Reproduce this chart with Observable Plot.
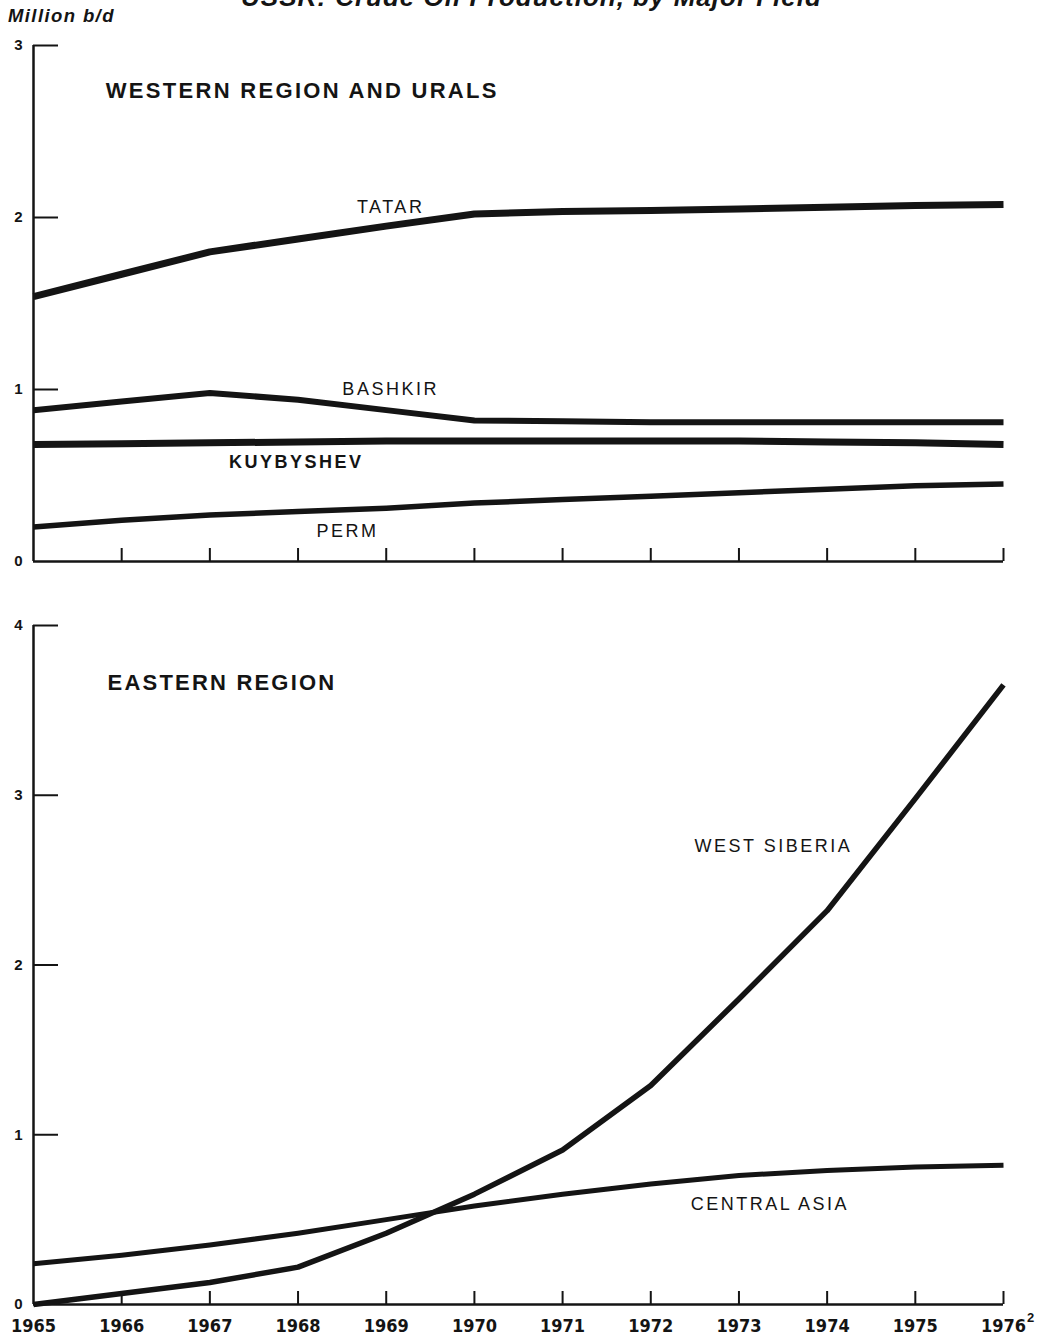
<!DOCTYPE html>
<html>
<head>
<meta charset="utf-8">
<script src="https://cdn.jsdelivr.net/npm/d3@7"></script>
<script src="https://cdn.jsdelivr.net/npm/@observablehq/plot@0.6"></script>
<style>
  body { margin: 0; background: #fff; }
  #wrap { position: relative; width: 1039px; height: 1337px; overflow: hidden; background: #fff; color: #141414; }
  #title { position: absolute; left: 12px; width: 1039px; top: -16px; text-align: center; letter-spacing: 1px;
           font: italic bold 26px/26px "Liberation Sans", Arial, sans-serif; color: #141414; white-space: nowrap; }
  #unit { position: absolute; left: 8px; top: 6px; font: italic bold 18.5px/20px "Liberation Sans", Arial, sans-serif;
          letter-spacing: 1.4px; color: #141414; }
  #top { position: absolute; left: 0; top: 30px; }
  #bottom { position: absolute; left: 0; top: 600px; }
</style>
</head>
<body>
<div id="wrap">
  <div id="title">USSR: Crude Oil Production, by Major Field</div>
  <div id="unit">Million b/d</div>
  <div id="top"></div>
  <div id="bottom"></div>
</div>
<script>
// ---- Data (million barrels per day) ----
const years = [1965, 1966, 1967, 1968, 1969, 1970, 1971, 1972, 1973, 1974, 1975, 1976];

// Western Region and Urals
const tatar      = [1.54, 1.67, 1.80, 1.875, 1.95, 2.02, 2.035, 2.04, 2.05, 2.06, 2.07, 2.075];
const bashkir    = [0.88, 0.93, 0.98, 0.94, 0.88, 0.82, 0.815, 0.81, 0.81, 0.81, 0.81, 0.81];
const kuybyshev  = [0.68, 0.685, 0.69, 0.695, 0.70, 0.70, 0.70, 0.70, 0.70, 0.695, 0.69, 0.68];
const perm       = [0.20, 0.24, 0.27, 0.29, 0.31, 0.34, 0.36, 0.38, 0.40, 0.42, 0.44, 0.45];

// Eastern Region
const westSiberia = [0.00, 0.065, 0.13, 0.22, 0.42, 0.65, 0.91, 1.29, 1.80, 2.32, 2.98, 3.65];
const centralAsia = [0.24, 0.29, 0.35, 0.42, 0.50, 0.58, 0.65, 0.71, 0.76, 0.79, 0.81, 0.82];

const westTicksY = [0, 1, 2, 3];
const eastTicksY = [0, 1, 2, 3, 4];

const westTitle = "WESTERN REGION AND URALS";
const eastTitle = "EASTERN REGION";

// label anchors in data coordinates
const westLabels = [
  {text: "TATAR", year: 1969.05, value: 2.06, bold: false},
  {text: "BASHKIR", year: 1969.05, value: 1.0, bold: false},
  {text: "KUYBYSHEV", year: 1967.98, value: 0.576, bold: true},
  {text: "PERM", year: 1968.56, value: 0.174, bold: false}
];
const eastLabels = [
  {text: "WEST SIBERIA", year: 1973.39, value: 2.70, bold: false},
  {text: "CENTRAL ASIA", year: 1973.35, value: 0.59, bold: false}
];

const series = (vals) => vals.map((v, i) => ({year: years[i], value: v}));

const INK = "#141414";
const SANS = "Liberation Sans, Arial, sans-serif";
const NARROW = "Liberation Sans Narrow, DejaVu Sans Condensed, sans-serif";

function lineMarks(list) {
  return list.map(([vals, w]) => Plot.line(series(vals), {x: "year", y: "value", stroke: INK, strokeWidth: w, strokeLinecap: "butt", strokeLinejoin: "round"}));
}

function frameMarks(ymax, ticksY) {
  return [
    Plot.ruleX([1965], {y1: 0, y2: ymax, stroke: INK, strokeWidth: 2.5}),
    Plot.ruleY([0], {x1: 1965, x2: 1976, stroke: INK, strokeWidth: 2.5}),
    Plot.axisY({ticks: ticksY.filter(d => d > 0), tickSize: -25, tickFormat: () => "", label: null, stroke: INK, strokeWidth: 2}),
    Plot.axisY({ticks: ticksY, tickSize: 0, tickPadding: 11, tickFormat: d => String(d), label: null, fontSize: 15, fontWeight: "bold", fontFamily: SANS, fill: INK}),
    Plot.axisX({ticks: years.slice(1), tickSize: -13, tickFormat: () => "", label: null, stroke: INK, strokeWidth: 2})
  ];
}

function labelMarks(labels) {
  return [
    Plot.text(labels.filter(d => !d.bold), {x: "year", y: "value", text: "text", fontSize: 18, fontFamily: SANS, fill: INK}),
    Plot.text(labels.filter(d => d.bold), {x: "year", y: "value", text: "text", fontSize: 18, fontWeight: "bold", fontFamily: SANS, fill: INK})
  ];
}

const westPlot = Plot.plot({
  width: 1039, height: 560,
  marginLeft: 33, marginRight: 36, marginTop: 15, marginBottom: 29,
  x: {domain: [1965, 1976], label: null},
  y: {domain: [0, 3], label: null},
  marks: [
    ...frameMarks(3, westTicksY),
    ...lineMarks([[tatar, 7], [bashkir, 6], [kuybyshev, 7], [perm, 5.5]]),
    ...labelMarks(westLabels),
    Plot.text([westTitle], {x: 1965.82, y: 2.738, text: d => d, textAnchor: "start", fontSize: 22, fontWeight: "bold", fontFamily: SANS, fill: INK})
  ]
});

const eastPlot = Plot.plot({
  width: 1039, height: 737,
  marginLeft: 33, marginRight: 36, marginTop: 25, marginBottom: 33,
  x: {domain: [1965, 1976], label: null},
  y: {domain: [0, 4], label: null},
  marks: [
    ...frameMarks(4, eastTicksY),
    Plot.axisX({ticks: years, tickSize: 0, tickPadding: 15, tickFormat: d => String(d), label: null, fontSize: 18, fontWeight: "bold", fontFamily: NARROW, fill: INK}),
    Plot.text([1976], {x: d => d, y: 0, text: () => "2", dx: 27, dy: 13, fontSize: 13, fontWeight: "bold", fontFamily: SANS, fill: INK}),
    ...lineMarks([[centralAsia, 5], [westSiberia, 5.5]]),
    ...labelMarks(eastLabels),
    Plot.text([eastTitle], {x: 1965.84, y: 3.664, text: d => d, textAnchor: "start", fontSize: 22, fontWeight: "bold", fontFamily: SANS, fill: INK})
  ]
});

function spaceText(svg, texts, px) {
  d3.select(svg).selectAll("text")
    .filter(function () { return texts.includes(this.textContent); })
    .style("letter-spacing", px + "px");
}
const lineNames = [...westLabels, ...eastLabels].map(d => d.text);
spaceText(westPlot, [westTitle], 2.3);
spaceText(eastPlot, [eastTitle], 2.2);
spaceText(westPlot, lineNames, 2.5);
spaceText(eastPlot, lineNames, 2.5);

document.getElementById("top").appendChild(westPlot);
document.getElementById("bottom").appendChild(eastPlot);
</script>
</body>
</html>
